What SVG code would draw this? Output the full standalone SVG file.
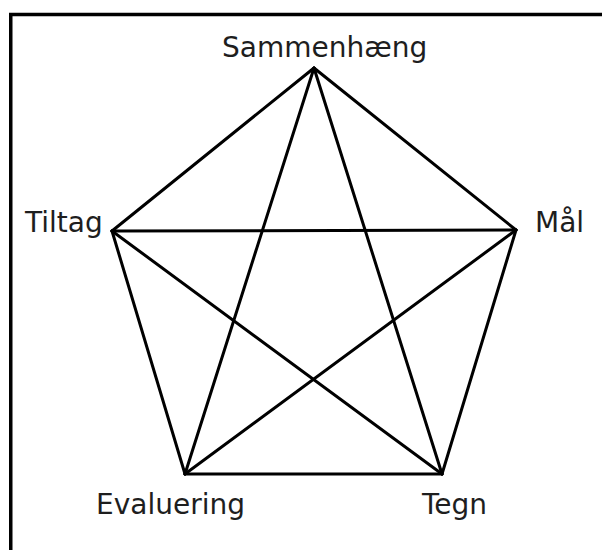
<svg xmlns="http://www.w3.org/2000/svg" width="602" height="550" viewBox="0 0 602 550">
<style>
.lbl{font-family:"DejaVu Sans","Verdana",sans-serif;font-size:28px;fill:#1e1e1e}
.edge{stroke:#000;stroke-width:3;stroke-linecap:round;fill:none}
</style>
<rect x="0" y="0" width="602" height="550" fill="#fff"/>
<path d="M10.75 560 V14.5 H612" fill="none" stroke="#000" stroke-width="3.5"/>
<g id="connectors">
<line class="edge" x1="314" y1="68" x2="112" y2="231"/>
<line class="edge" x1="314" y1="68" x2="516" y2="230"/>
<line class="edge" x1="314" y1="68" x2="185" y2="474"/>
<line class="edge" x1="314" y1="68" x2="442" y2="474"/>
<line class="edge" x1="112" y1="231" x2="516" y2="230"/>
<line class="edge" x1="112" y1="231" x2="185" y2="474"/>
<line class="edge" x1="112" y1="231" x2="442" y2="474"/>
<line class="edge" x1="516" y1="230" x2="185" y2="474"/>
<line class="edge" x1="516" y1="230" x2="442" y2="474"/>
<line class="edge" x1="185" y1="474" x2="442" y2="474"/>
</g>
<g id="sammenhaeng"><text class="lbl" x="222" y="57">Sammenhæng</text></g>
<g id="tiltag"><text class="lbl" x="25" y="232">Tiltag</text></g>
<g id="maal"><text class="lbl" x="535" y="232">Mål</text></g>
<g id="evaluering"><text class="lbl" x="96" y="514">Evaluering</text></g>
<g id="tegn"><text class="lbl" x="422" y="514">Tegn</text></g>
</svg>
